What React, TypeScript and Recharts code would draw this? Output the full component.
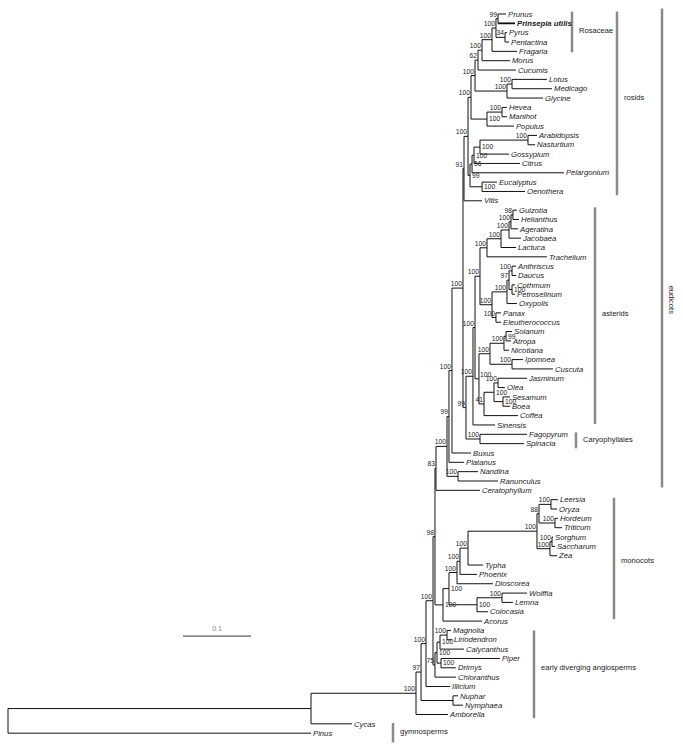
import React from 'react';
import { ScatterChart, Scatter, XAxis, YAxis, ReferenceLine } from 'recharts';

// Leaf taxa, top to bottom, with distance from root (subst./site)
const leaves: [string, number][] = [
  ['Prunus', 0.7324], ['Prinsepia utilis', 0.7456], ['Pyrus', 0.7338], ['Pentactina', 0.7368],
  ['Fragaria', 0.7485], ['Morus', 0.7382], ['Cucumis', 0.7471], ['Lotus', 0.7926],
  ['Medicago', 0.8], ['Glycine', 0.7868], ['Hevea', 0.7338], ['Manihot', 0.7338],
  ['Populus', 0.7441], ['Arabidopsis', 0.7779], ['Nasturtium', 0.775], ['Gossypium', 0.7368],
  ['Citrus', 0.7529], ['Pelargonium', 0.8176], ['Eucalyptus', 0.7191], ['Oenothera', 0.7603],
  ['Vitis', 0.6971], ['Guizotia', 0.7485], ['Helianthus', 0.7515], ['Ageratina', 0.75],
  ['Jacobaea', 0.7544], ['Lactuca', 0.7471], ['Trachelium', 0.7926], ['Anthriscus', 0.7471],
  ['Daucus', 0.7471], ['Cothmum', 0.7456], ['Petroselinum', 0.7456], ['Oxypolis', 0.7485],
  ['Panax', 0.725], ['Eleutherococcus', 0.725], ['Solanum', 0.7412], ['Atropa', 0.7397],
  ['Nicotiana', 0.7368], ['Ipomoea', 0.7574], ['Cuscuta', 0.8015], ['Jasminum', 0.7632],
  ['Olea', 0.7309], ['Sesamum', 0.7382], ['Boea', 0.7382], ['Coffea', 0.75],
  ['Sinensis', 0.7162], ['Fagopyrum', 0.7632], ['Spinacia', 0.7588], ['Buxus', 0.6809],
  ['Platanus', 0.6706], ['Nandina', 0.6912], ['Ranunculus', 0.7206], ['Ceratophyllum', 0.6941],
  ['Leersia', 0.8088], ['Oryza', 0.8074], ['Hordeum', 0.8088], ['Triticum', 0.8147],
  ['Sorghum', 0.8015], ['Saccharum', 0.8044], ['Zea', 0.8074], ['Typha', 0.6985],
  ['Phoenix', 0.6897], ['Dioscorea', 0.7132], ['Wolffia', 0.7632], ['Lemna', 0.7426],
  ['Colocasia', 0.7059], ['Acorus', 0.6971], ['Magnolia', 0.6515], ['Liriodendron', 0.6529],
  ['Calycanthus', 0.6706], ['Piper', 0.7235], ['Drimys', 0.6588], ['Chloranthus', 0.6588],
  ['Illicium', 0.65], ['Nuphar', 0.6618], ['Nymphaea', 0.6691], ['Amborella', 0.6471],
  ['Cycas', 0.5059], ['Pinus', 0.4456],
];

// Internal nodes: id, children (upper first), distance from root, bootstrap, label side
const nodes: [string, string[], number, number | null, string?][] = [
  ['A', ['Prunus', 'Prinsepia utilis'], 0.7206, 99],
  ['P', ['Pyrus', 'Pentactina'], 0.7309, 34],
  ['B', ['A', 'P'], 0.7176, 100],
  ['C', ['B', 'Fragaria'], 0.7118, 100],
  ['D', ['C', 'Morus'], 0.6971, 100],
  ['E', ['D', 'Cucumis'], 0.6912, 62],
  ['LM', ['Lotus', 'Medicago'], 0.7412, 100],
  ['LMG', ['LM', 'Glycine'], 0.7338, 100],
  ['F', ['E', 'LMG'], 0.6868, 100],
  ['HM', ['Hevea', 'Manihot'], 0.7265, 100],
  ['HMP', ['HM', 'Populus'], 0.7044, 100, 'r'],
  ['G', ['F', 'HMP'], 0.6809, 100],
  ['AN', ['Arabidopsis', 'Nasturtium'], 0.7647, 100],
  ['N2', ['AN', 'Gossypium'], 0.6941, 100, 'r'],
  ['M3', ['N2', 'Citrus'], 0.6853, 100, 'r'],
  ['M2', ['M3', 'Pelargonium'], 0.6824, 56, 'r'],
  ['EO', ['Eucalyptus', 'Oenothera'], 0.6971, 100, 'r'],
  ['M', ['M2', 'EO'], 0.6794, 99, 'r'],
  ['R100', ['G', 'M'], 0.6765, 100],
  ['R91', ['R100', 'Vitis'], 0.6706, 91],
  ['GH', ['Guizotia', 'Helianthus'], 0.7426, 98],
  ['GHA', ['GH', 'Ageratina'], 0.7397, 100],
  ['GHAJ', ['GHA', 'Jacobaea'], 0.7368, 100],
  ['AST', ['GHAJ', 'Lactuca'], 0.725, 100],
  ['AT', ['AST', 'Trachelium'], 0.7044, 100],
  ['AD', ['Anthriscus', 'Daucus'], 0.7412, 100],
  ['CP', ['Cothmum', 'Petroselinum'], 0.7412, 100, 'r'],
  ['ADCP', ['AD', 'CP'], 0.7368, 97],
  ['APC', ['ADCP', 'Oxypolis'], 0.7338, 100],
  ['PE', ['Panax', 'Eleutherococcus'], 0.7176, 100],
  ['APL', ['APC', 'PE'], 0.7118, 100],
  ['CAMP', ['AT', 'APL'], 0.6941, 100],
  ['SA', ['Solanum', 'Atropa'], 0.7324, 99, 'r'],
  ['SAN', ['SA', 'Nicotiana'], 0.7294, 100],
  ['IC', ['Ipomoea', 'Cuscuta'], 0.7412, 100],
  ['SOL', ['SAN', 'IC'], 0.7088, 100],
  ['OL', ['Jasminum', 'Olea'], 0.7206, 100],
  ['SB', ['Sesamum', 'Boea'], 0.7279, 100, 'r'],
  ['LAMI', ['OL', 'SB'], 0.7147, 100, 'r'],
  ['LC', ['LAMI', 'Coffea'], 0.7, 41],
  ['LAM', ['SOL', 'LC'], 0.6926, 100, 'u'],
  ['CORE', ['CAMP', 'LAM'], 0.6868, 100],
  ['ASTR', ['CORE', 'Sinensis'], 0.6838, 100],
  ['FS', ['Fagopyrum', 'Spinacia'], 0.6941, 100],
  ['Y', ['ASTR', 'FS'], 0.6735, 99],
  ['CE', ['R91', 'Y'], 0.6691, 100],
  ['CEB', ['CE', 'Buxus'], 0.6529, 100],
  ['PB', ['CEB', 'Platanus'], 0.6485, 99],
  ['NR', ['Nandina', 'Ranunculus'], 0.6618, 100],
  ['EU', ['PB', 'NR'], 0.6456, 100],
  ['EC', ['EU', 'Ceratophyllum'], 0.6294, 83],
  ['LO', ['Leersia', 'Oryza'], 0.7985, 100],
  ['HT', ['Hordeum', 'Triticum'], 0.8044, 100],
  ['BEP', ['LO', 'HT'], 0.7809, 88],
  ['SS', ['Sorghum', 'Saccharum'], 0.8, 100],
  ['SSZ', ['SS', 'Zea'], 0.797, 100],
  ['POA', ['BEP', 'SSZ'], 0.7779, 100],
  ['PT', ['POA', 'Typha'], 0.6765, 100],
  ['PTP', ['PT', 'Phoenix'], 0.6647, 100],
  ['DIO', ['PTP', 'Dioscorea'], 0.6603, 100],
  ['WL', ['Wolffia', 'Lemna'], 0.7265, 100],
  ['WLC', ['WL', 'Colocasia'], 0.6897, 100, 'r'],
  ['PET', ['DIO', 'WLC'], 0.6485, 100, 'r'],
  ['MON', ['PET', 'Acorus'], 0.6397, 100, 'r'],
  ['N98', ['EC', 'MON'], 0.6279, 98],
  ['ML', ['Magnolia', 'Liriodendron'], 0.6456, 100],
  ['MLC', ['ML', 'Calycanthus'], 0.6353, 100, 'r'],
  ['PD', ['Piper', 'Drimys'], 0.6368, 100, 'r'],
  ['MAG', ['MLC', 'PD'], 0.6309, 100, 'r'],
  ['MAGC', ['MAG', 'Chloranthus'], 0.6279, 75],
  ['N100', ['N98', 'MAGC'], 0.625, 100],
  ['NI', ['N100', 'Illicium'], 0.6147, 100],
  ['NY', ['Nuphar', 'Nymphaea'], 0.6544, null],
  ['N97', ['NI', 'NY'], 0.6074, 97],
  ['ANG', ['N97', 'Amborella'], 0.6, 100],
  ['SEED', ['ANG', 'Cycas'], 0.4456, null],
  ['ROOT', ['SEED', 'Pinus'], 0, null],
];

// Clade bars: label, first leaf, last leaf
const groups: [string, string, string][] = [
  ['Rosaceae', 'Prunus', 'Fragaria'],
  ['rosids', 'Prunus', 'Oenothera'],
  ['eudicots', 'Prunus', 'Ceratophyllum'],
  ['asterids', 'Guizotia', 'Sinensis'],
  ['Caryophyllales', 'Fagopyrum', 'Spinacia'],
  ['monocots', 'Leersia', 'Acorus'],
  ['early diverging angiosperms', 'Magnolia', 'Amborella'],
  ['gymnosperms', 'Cycas', 'Pinus'],
];

const scaleValue = 0.1;

// layout
const W = 683;
const H = 749;
const X0 = 8;
const PX = 680;
const Y0 = 14;
const ROW = 9.34;
const u = (px: number) => (px - X0) / PX;
const xDomain = [u(0), u(W)];
const yDomain = [-Y0 / ROW, (H - Y0) / ROW];
const font = '"Liberation Sans", Arial, sans-serif';
const groupLayout: Record<string, { bar: number; top: number; bottom: number; dy: number; rotate?: boolean }> = {
  Rosaceae: { bar: 572, top: 0.25, bottom: 0.1, dy: -0.3 },
  rosids: { bar: 617, top: 0.25, bottom: 0.4, dy: -0.6 },
  eudicots: { bar: 662, top: 0.6, bottom: -0.3, dy: 5.1, rotate: true },
  asterids: { bar: 595, top: 0.3, bottom: -0.1, dy: -0.4 },
  Caryophyllales: { bar: 576, top: 0.2, bottom: 0.5, dy: 0 },
  monocots: { bar: 614, top: 0.2, bottom: -0.2, dy: 0 },
  'early diverging angiosperms': { bar: 534, top: 0, bottom: 0.4, dy: -0.5 },
  gymnosperms: { bar: 393, top: 0.1, bottom: 1.0, dy: 0.3 },
};
const scaleBarPos = { x: u(183), row: 66.6 };

// build tree geometry
const leafIndex = new Map(leaves.map(([n], i) => [n, i]));
const depth = new Map<string, number>();
leaves.forEach(([n, d]) => depth.set(n, d));
nodes.forEach(([id, , d]) => depth.set(id, d));
const kids = new Map(nodes.map(([id, ch]) => [id, ch]));
const parent = new Map<string, string>();
nodes.forEach(([id, ch]) => ch.forEach((c) => parent.set(c, id)));
const yPos = new Map<string, number>();
const place = (id: string): number => {
  if (leafIndex.has(id)) {
    yPos.set(id, leafIndex.get(id)!);
    return leafIndex.get(id)!;
  }
  const ch = kids.get(id)!;
  const ys = ch.map(place);
  const y = (ys[0] + ys[ys.length - 1]) / 2;
  yPos.set(id, y);
  return y;
};
place('ROOT');

const segments: { a: { x: number; y: number }; b: { x: number; y: number }; bold?: boolean }[] = [];
depth.forEach((d, id) => {
  const y = yPos.get(id)!;
  const p = parent.get(id);
  if (p) segments.push({ a: { x: depth.get(p)!, y }, b: { x: d, y }, bold: id === 'Prinsepia utilis' });
  const ch = kids.get(id);
  if (ch) segments.push({ a: { x: d, y: yPos.get(ch[0])! }, b: { x: d, y: yPos.get(ch[ch.length - 1])! } });
});

const leafData = leaves.map(([name, d]) => ({ x: d, y: yPos.get(name)!, name }));
const supportData = nodes
  .filter(([, , , s]) => s !== null)
  .map(([id, , d, s, side]) => ({ x: d, y: yPos.get(id)!, value: s, side }));
const groupData = groups.map(([label, a, b]) => {
  const l = groupLayout[label];
  return { x: u(l.bar), y: (leafIndex.get(a)! + leafIndex.get(b)!) / 2 + l.dy, label, rotate: l.rotate };
});

const LeafLabel = (props: any) => {
  const { cx, cy, payload } = props;
  const bold = payload.name === 'Prinsepia utilis';
  return (
    <text x={cx + 2} y={cy} dy="0.35em" fontSize={7.7} fontStyle="italic" fontWeight={bold ? 'bold' : 'normal'}
      fontFamily={font} fill="#1a1a1a">
      {payload.name}
    </text>
  );
};

const SupportLabel = (props: any) => {
  const { cx, cy, payload } = props;
  if (payload.side === 'r') {
    return (
      <text x={cx + 2} y={cy} dy="0.35em" fontSize={6.7} fontFamily={font} fill="#222">{payload.value}</text>
    );
  }
  if (payload.side === 'u') {
    return (
      <text x={cx + 1} y={cy - 2} fontSize={6.7} fontFamily={font} fill="#222">{payload.value}</text>
    );
  }
  return (
    <text x={cx - 1} y={cy - 2} textAnchor="end" fontSize={6.7} fontFamily={font} fill="#222">{payload.value}</text>
  );
};

const GroupLabel = (props: any) => {
  const { cx, cy, payload } = props;
  if (payload.rotate) {
    const x = cx + 10;
    return (
      <text x={x} y={cy} dy="0.35em" textAnchor="middle" transform={`rotate(90, ${x}, ${cy})`} fontSize={7.6}
        fontFamily={font} fill="#222">
        {payload.label}
      </text>
    );
  }
  return (
    <text x={cx + 7} y={cy} dy="0.35em" fontSize={7.6} fontFamily={font} fill="#222">{payload.label}</text>
  );
};

const ScaleLabel = (props: any) => {
  const { cx, cy } = props;
  return (
    <text x={cx} y={cy} dy="0.35em" textAnchor="middle" fontSize={7} fontFamily={font} fill="#888">
      {String(scaleValue)}
    </text>
  );
};

export default function App() {
  return (
    <div style={{ position: 'absolute', left: 0, top: 0, background: '#fff' }}>
      <ScatterChart width={W} height={H} margin={{ top: 0, right: 0, bottom: 0, left: 0 }}>
        <XAxis type="number" dataKey="x" domain={xDomain} allowDataOverflow hide />
        <YAxis type="number" dataKey="y" domain={yDomain} allowDataOverflow reversed hide />
        {segments.map((s, i) => (
          <ReferenceLine key={`s${i}`} segment={[s.a, s.b]} stroke="#111" strokeWidth={s.bold ? 1.8 : 1}
            ifOverflow="visible" />
        ))}
        {groups.map(([label, a, b]) => {
          const l = groupLayout[label];
          return (
            <ReferenceLine key={label}
              segment={[{ x: u(l.bar), y: leafIndex.get(a)! - l.top }, { x: u(l.bar), y: leafIndex.get(b)! + l.bottom }]}
              stroke="#8a8a8a" strokeWidth={2.5} ifOverflow="visible" />
          );
        })}
        <ReferenceLine
          segment={[{ x: scaleBarPos.x, y: scaleBarPos.row }, { x: scaleBarPos.x + scaleValue, y: scaleBarPos.row }]}
          stroke="#8a8a8a" strokeWidth={1.8} ifOverflow="visible" />
        <Scatter data={leafData} shape={LeafLabel} isAnimationActive={false} />
        <Scatter data={supportData} shape={SupportLabel} isAnimationActive={false} />
        <Scatter data={groupData} shape={GroupLabel} isAnimationActive={false} />
        <Scatter data={[{ x: scaleBarPos.x + scaleValue / 2, y: scaleBarPos.row - 0.85 }]} shape={ScaleLabel}
          isAnimationActive={false} />
      </ScatterChart>
    </div>
  );
}
